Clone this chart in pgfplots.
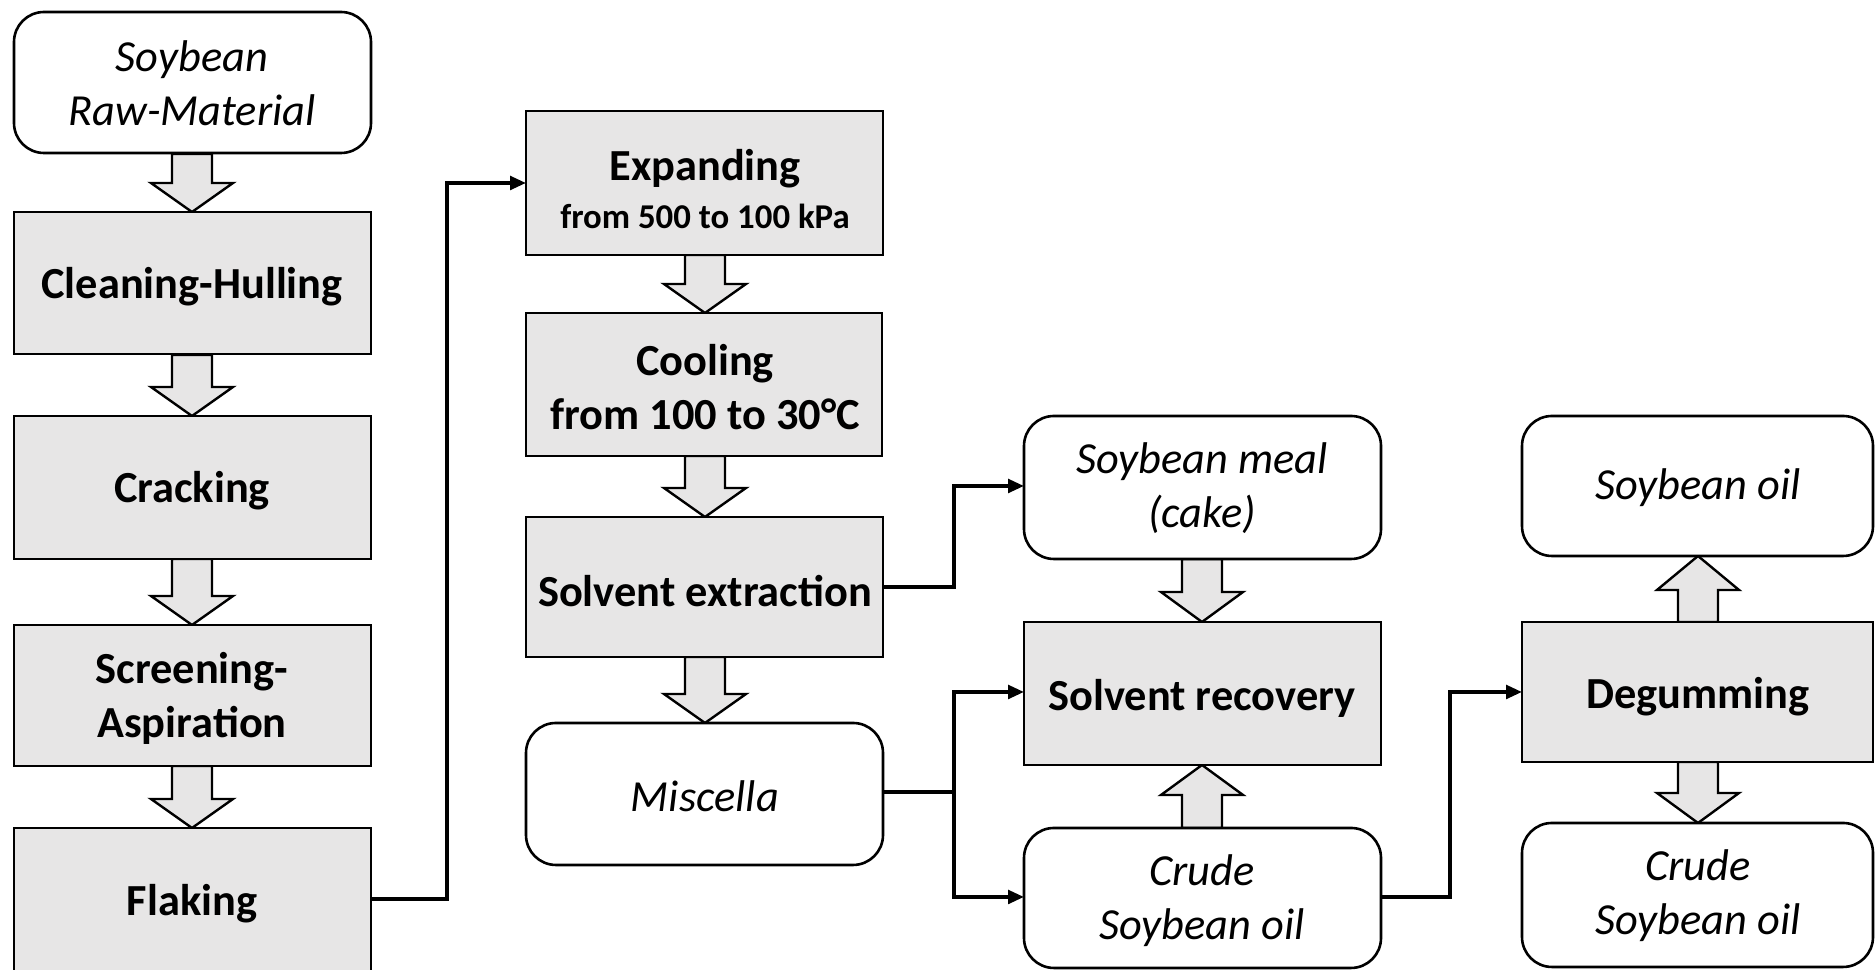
\documentclass[border=0pt]{standalone}
\usepackage{fontspec}
\setmainfont{Carlito}
\usepackage{pgfplots}
\pgfplotsset{compat=1.18}
\usetikzlibrary{arrows.meta}
\definecolor{boxgray}{RGB}{231,230,230}
\tikzset{
  blockarr/.style={draw=black, line width=0.6bp, fill=boxgray},
  procbox/.style={draw=black, line width=0.65bp, fill=boxgray},
  matbox/.style={draw=black, line width=0.65bp, fill=white, rounded corners=7.5bp},
  link/.style={black, line width=0.9bp},
  tip/.style={-{Triangle[length=4bp,width=3.4bp]}},
  lbl/.style={font=\fontsize{11.1bp}{13.5bp}\selectfont, align=center}}

\begin{document}
\begin{tikzpicture}
\begin{axis}[width=469bp, height=242.5bp, scale only axis,
  xmin=0, xmax=1876, ymin=0, ymax=970, y dir=reverse,
  hide axis, clip=true,
  every axis plot/.append style={no markers, sharp plot}]

% hollow block arrows
\addplot[blockarr] coordinates {(172,154)(212,154)(212,183)(233,183)(192,212)(151,183)(172,183)(172,154)};
\addplot[blockarr] coordinates {(172,355)(212,355)(212,387)(233,387)(192,416)(151,387)(172,387)(172,355)};
\addplot[blockarr] coordinates {(172,559)(212,559)(212,596)(233,596)(192,625)(151,596)(172,596)(172,559)};
\addplot[blockarr] coordinates {(172,766)(212,766)(212,799)(233,799)(192,828)(151,799)(172,799)(172,766)};
\addplot[blockarr] coordinates {(685,255)(725,255)(725,284)(746,284)(705,313)(664,284)(685,284)(685,255)};
\addplot[blockarr] coordinates {(685,456)(725,456)(725,488)(746,488)(705,517)(664,488)(685,488)(685,456)};
\addplot[blockarr] coordinates {(685,657)(725,657)(725,694)(746,694)(705,723)(664,694)(685,694)(685,657)};
\addplot[blockarr] coordinates {(1182,559)(1222,559)(1222,592)(1243,592)(1202,622)(1161,592)(1182,592)(1182,559)};
\addplot[blockarr] coordinates {(1182,828)(1222,828)(1222,795)(1243,795)(1202,765)(1161,795)(1182,795)(1182,828)};
\addplot[blockarr] coordinates {(1678,622)(1718,622)(1718,590)(1739,590)(1698,556)(1657,590)(1678,590)(1678,622)};
\addplot[blockarr] coordinates {(1678,762)(1718,762)(1718,793)(1739,793)(1698,823)(1657,793)(1678,793)(1678,762)};

% process steps (gray)
\addplot[procbox] coordinates {(192,212)(371,212)(371,354)(14,354)(14,212)(192,212)};
\addplot[procbox] coordinates {(192,416)(371,416)(371,559)(14,559)(14,416)(192,416)};
\addplot[procbox] coordinates {(192,625)(371,625)(371,766)(14,766)(14,625)(192,625)};
\addplot[procbox] coordinates {(192,828)(371,828)(371,1010)(14,1010)(14,828)(192,828)};
\addplot[procbox] coordinates {(705,111)(883,111)(883,255)(526,255)(526,111)(705,111)};
\addplot[procbox] coordinates {(705,313)(882,313)(882,456)(526,456)(526,313)(705,313)};
\addplot[procbox] coordinates {(705,517)(883,517)(883,657)(526,657)(526,517)(705,517)};
\addplot[procbox] coordinates {(1202,622)(1381,622)(1381,765)(1024,765)(1024,622)(1202,622)};
\addplot[procbox] coordinates {(1698,622)(1873,622)(1873,762)(1522,762)(1522,622)(1698,622)};

% materials (rounded)
\addplot[matbox] coordinates {(192,12)(371,12)(371,153)(14,153)(14,12)(192,12)};
\addplot[matbox] coordinates {(1202,416)(1381,416)(1381,559)(1024,559)(1024,416)(1202,416)};
\addplot[matbox] coordinates {(705,723)(883,723)(883,865)(526,865)(526,723)(705,723)};
\addplot[matbox] coordinates {(1202,828)(1381,828)(1381,968)(1024,968)(1024,828)(1202,828)};
\addplot[matbox] coordinates {(1698,416)(1873,416)(1873,556)(1522,556)(1522,416)(1698,416)};
\addplot[matbox] coordinates {(1698,823)(1873,823)(1873,967)(1522,967)(1522,823)(1698,823)};

% connectors
\addplot[link, tip] coordinates {(371,899)(447,899)(447,183)(526,183)};
\addplot[link, tip] coordinates {(883,587)(954,587)(954,486)(1024,486)};
\addplot[link] coordinates {(883,792)(954,792)};
\addplot[link, {Triangle[length=4bp,width=3.4bp]}-{Triangle[length=4bp,width=3.4bp]}] coordinates {(1024,692)(954,692)(954,897)(1024,897)};
\addplot[link, tip] coordinates {(1381,897)(1450,897)(1450,692)(1522,692)};

% labels
\node[lbl] at (axis cs:192,83) {\itshape Soybean\\\itshape Raw-Material};
\node[lbl] at (axis cs:192,287) {\bfseries Cleaning-Hulling};
\node[lbl] at (axis cs:192,491) {\bfseries Cracking};
\node[lbl] at (axis cs:192,698) {\bfseries Screening-\\\bfseries Aspiration};
\node[lbl] at (axis cs:192,904) {\bfseries Flaking};
\node[lbl] at (axis cs:705,169) {\bfseries Expanding};
\node[font=\fontsize{8.7bp}{10.5bp}\selectfont\bfseries] at (axis cs:705,216) {from 500 to 100 kPa};
\node[lbl] at (axis cs:705,387) {\bfseries Cooling\\\bfseries from 100 to 30°C};
\node[lbl] at (axis cs:705,591) {\bfseries Solvent extraction};
\node[lbl] at (axis cs:705,796) {\itshape Miscella};
\node[lbl] at (axis cs:1202,488) {\itshape Soybean meal\\\itshape (cake)};
\node[lbl] at (axis cs:1202,698) {\bfseries Solvent recovery};
\node[lbl] at (axis cs:1202,901) {\itshape Crude\\\itshape Soybean oil};
\node[lbl] at (axis cs:1698,488) {\itshape Soybean oil};
\node[lbl] at (axis cs:1698,697) {\bfseries Degumming};
\node[lbl] at (axis cs:1698,896) {\itshape Crude\\\itshape Soybean oil};
\end{axis}
\pgfresetboundingbox
\path[use as bounding box] (current axis.south west) rectangle (current axis.north east);
\end{tikzpicture}
\end{document}
